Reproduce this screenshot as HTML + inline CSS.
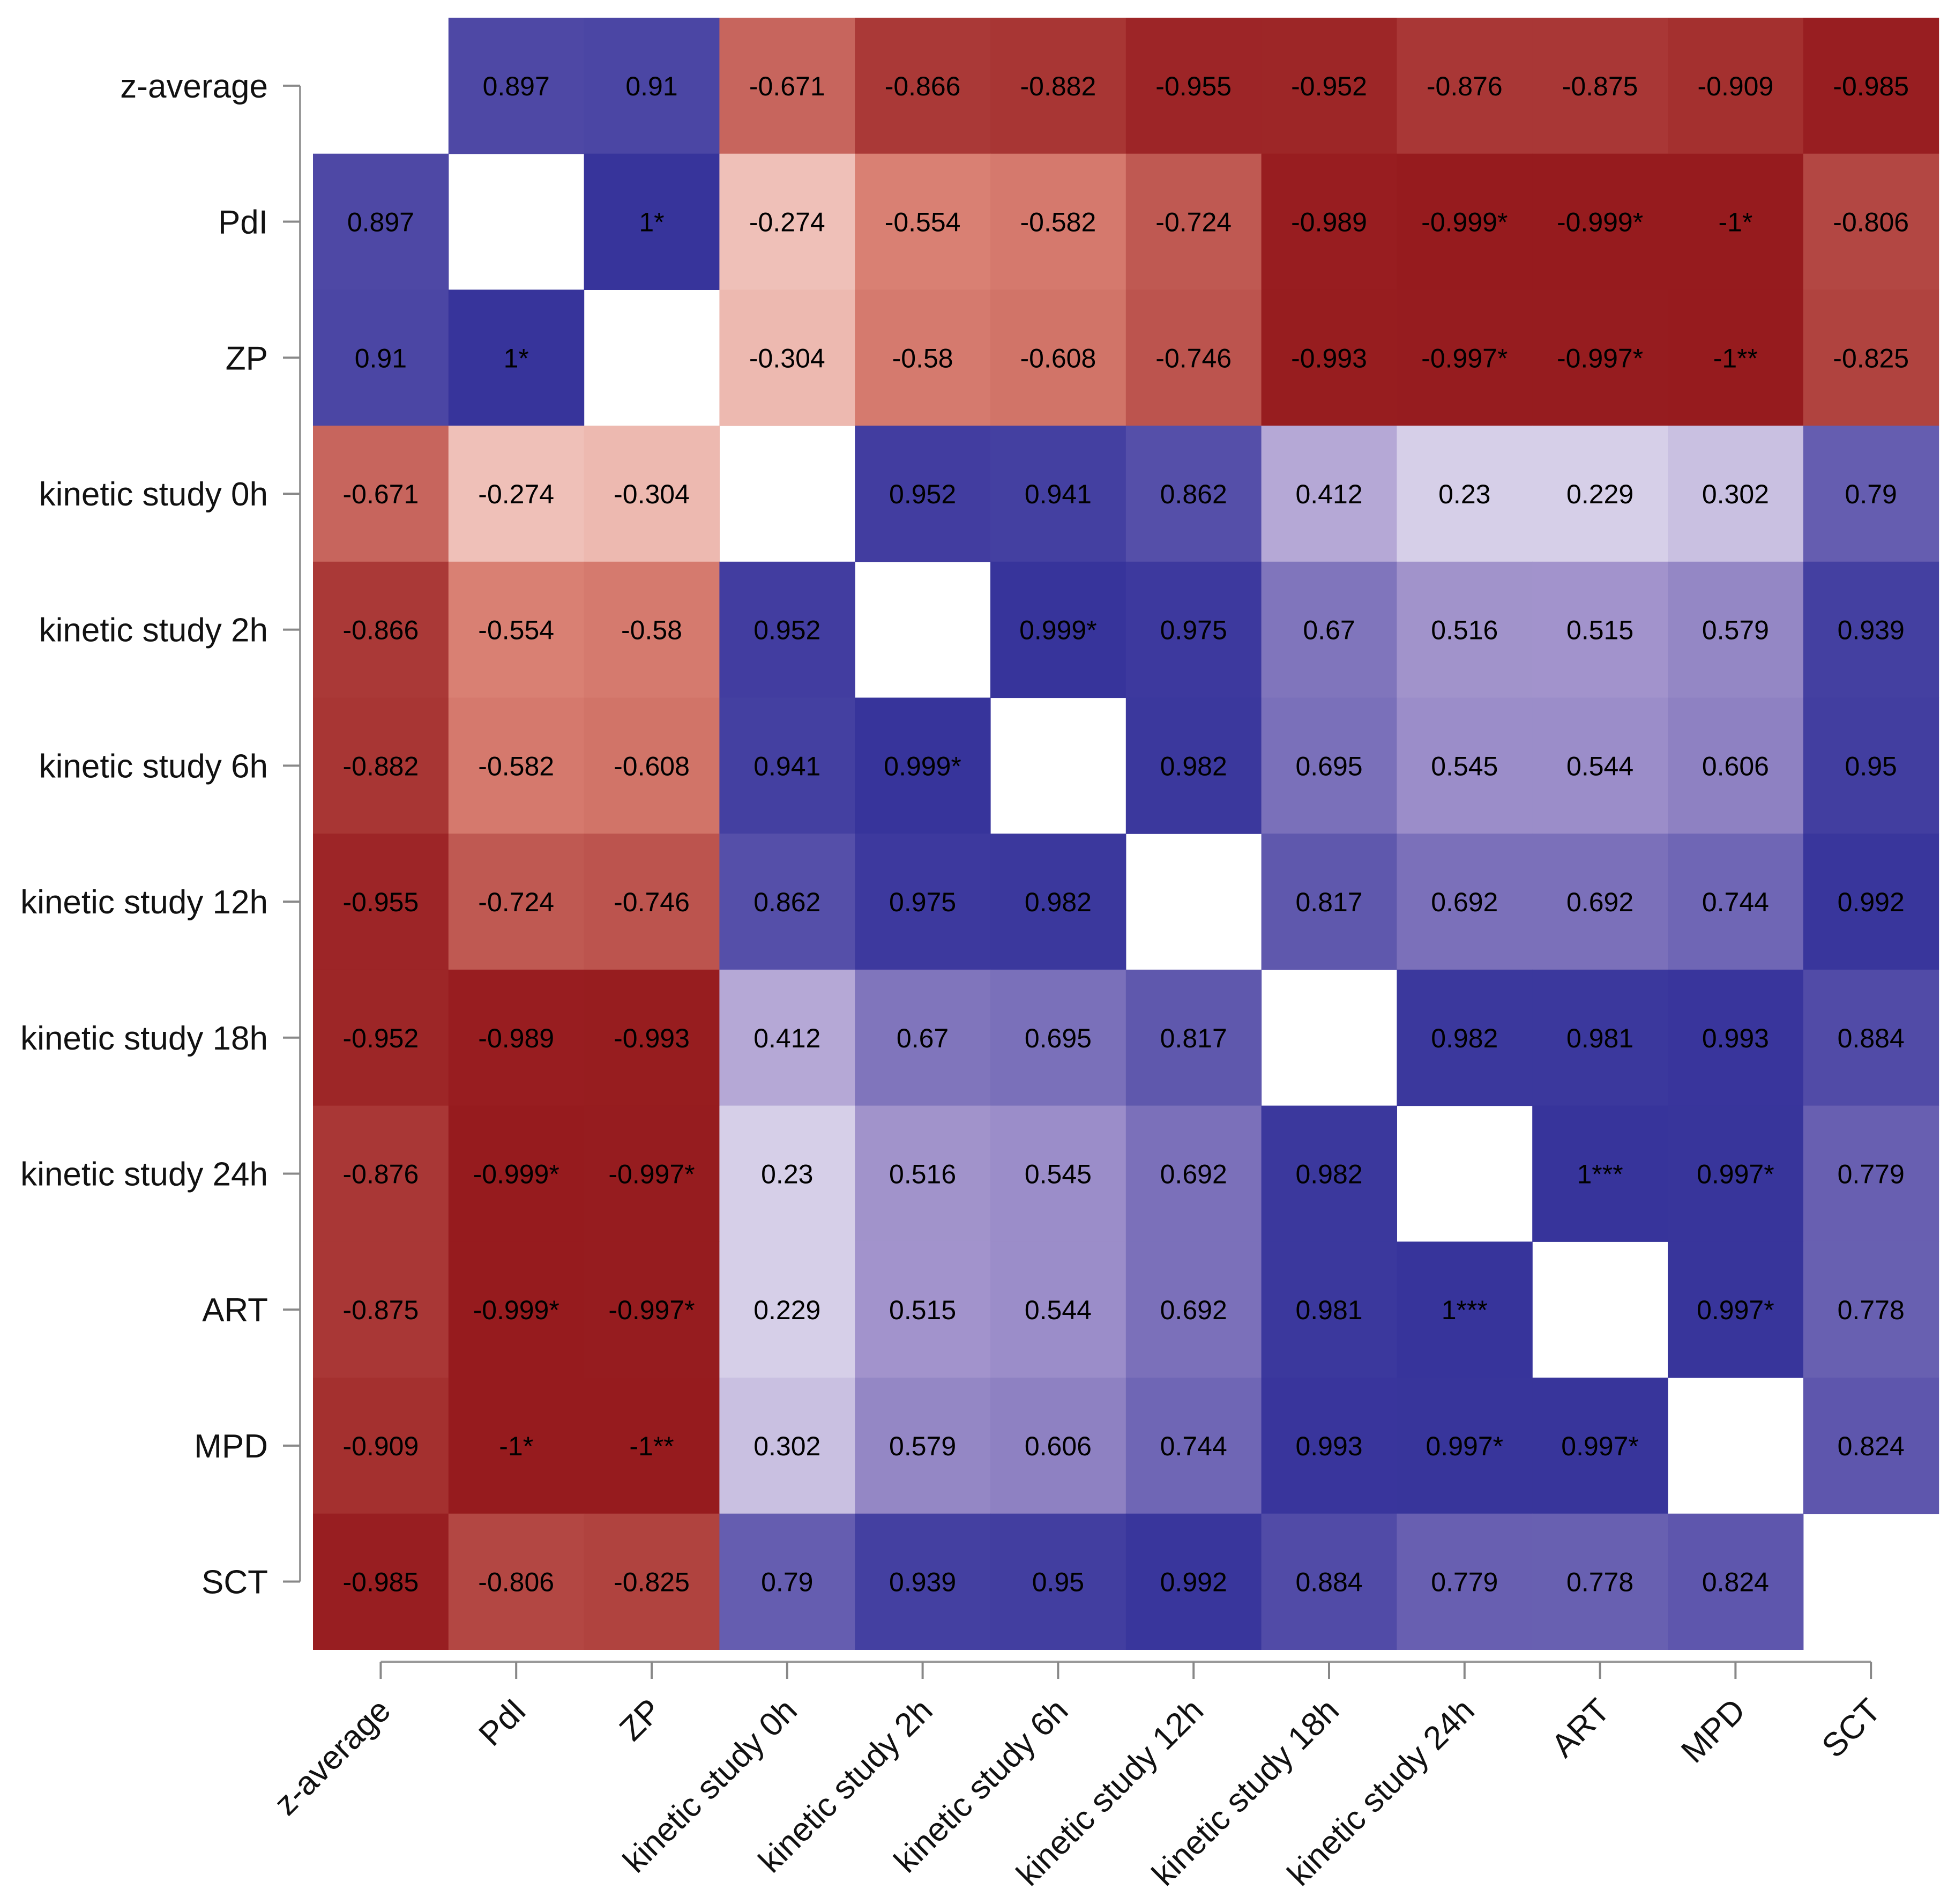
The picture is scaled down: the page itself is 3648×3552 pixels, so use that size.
<!DOCTYPE html>
<html><head><meta charset="utf-8">
<style>
html,body{margin:0;padding:0;background:#fff;}
svg{display:block;}
text{font-family:"Liberation Sans",Arial,sans-serif;}
</style></head>
<body>
<svg id="chart" width="3648" height="3552" viewBox="0 0 3648 3552" xmlns="http://www.w3.org/2000/svg">
<g id="cells"></g>
<g id="yaxis"></g>
<g id="xaxis"></g>
</svg>
<script>
const categories = ["z-average","PdI","ZP","kinetic study 0h","kinetic study 2h","kinetic study 6h","kinetic study 12h","kinetic study 18h","kinetic study 24h","ART","MPD","SCT"];
const row0 = [null,0.897,0.91,-0.671,-0.866,-0.882,-0.955,-0.952,-0.876,-0.875,-0.909,-0.985];
const row1 = [0.897,null,1,-0.274,-0.554,-0.582,-0.724,-0.989,-0.999,-0.999,-1,-0.806];
const row2 = [0.91,1,null,-0.304,-0.58,-0.608,-0.746,-0.993,-0.997,-0.997,-1,-0.825];
const row3 = [-0.671,-0.274,-0.304,null,0.952,0.941,0.862,0.412,0.23,0.229,0.302,0.79];
const row4 = [-0.866,-0.554,-0.58,0.952,null,0.999,0.975,0.67,0.516,0.515,0.579,0.939];
const row5 = [-0.882,-0.582,-0.608,0.941,0.999,null,0.982,0.695,0.545,0.544,0.606,0.95];
const row6 = [-0.955,-0.724,-0.746,0.862,0.975,0.982,null,0.817,0.692,0.692,0.744,0.992];
const row7 = [-0.952,-0.989,-0.993,0.412,0.67,0.695,0.817,null,0.982,0.981,0.993,0.884];
const row8 = [-0.876,-0.999,-0.997,0.23,0.516,0.545,0.692,0.982,null,1,0.997,0.779];
const row9 = [-0.875,-0.999,-0.997,0.229,0.515,0.544,0.692,0.981,1,null,0.997,0.778];
const row10 = [-0.909,-1,-1,0.302,0.579,0.606,0.744,0.993,0.997,0.997,null,0.824];
const row11 = [-0.985,-0.806,-0.825,0.79,0.939,0.95,0.992,0.884,0.779,0.778,0.824,null];
const matrix = [row0,row1,row2,row3,row4,row5,row6,row7,row8,row9,row10,row11];
const labels0 = ["","0.897","0.91","-0.671","-0.866","-0.882","-0.955","-0.952","-0.876","-0.875","-0.909","-0.985"];
const labels1 = ["0.897","","1*","-0.274","-0.554","-0.582","-0.724","-0.989","-0.999*","-0.999*","-1*","-0.806"];
const labels2 = ["0.91","1*","","-0.304","-0.58","-0.608","-0.746","-0.993","-0.997*","-0.997*","-1**","-0.825"];
const labels3 = ["-0.671","-0.274","-0.304","","0.952","0.941","0.862","0.412","0.23","0.229","0.302","0.79"];
const labels4 = ["-0.866","-0.554","-0.58","0.952","","0.999*","0.975","0.67","0.516","0.515","0.579","0.939"];
const labels5 = ["-0.882","-0.582","-0.608","0.941","0.999*","","0.982","0.695","0.545","0.544","0.606","0.95"];
const labels6 = ["-0.955","-0.724","-0.746","0.862","0.975","0.982","","0.817","0.692","0.692","0.744","0.992"];
const labels7 = ["-0.952","-0.989","-0.993","0.412","0.67","0.695","0.817","","0.982","0.981","0.993","0.884"];
const labels8 = ["-0.876","-0.999*","-0.997*","0.23","0.516","0.545","0.692","0.982","","1***","0.997*","0.779"];
const labels9 = ["-0.875","-0.999*","-0.997*","0.229","0.515","0.544","0.692","0.981","1***","","0.997*","0.778"];
const labels10 = ["-0.909","-1*","-1**","0.302","0.579","0.606","0.744","0.993","0.997*","0.997*","","0.824"];
const labels11 = ["-0.985","-0.806","-0.825","0.79","0.939","0.95","0.992","0.884","0.779","0.778","0.824",""];
const cellLabels = [labels0,labels1,labels2,labels3,labels4,labels5,labels6,labels7,labels8,labels9,labels10,labels11];

const NS = "http://www.w3.org/2000/svg";
const X0 = 584, Y0 = 33, CW = 252.8, CH = 253.7;
function xPos(i){ return X0 + i*CW; }
function yPos(i){ return Y0 + i*CH; }
function lerp(a,b,t){ return [a[0]+(b[0]-a[0])*t, a[1]+(b[1]-a[1])*t, a[2]+(b[2]-a[2])*t]; }
const W=[255,255,255], BM=[165,150,205], BE=[55,52,155], RM=[225,140,125], RE=[150,27,30];
function color(v){
  const a=Math.abs(v);
  let c;
  if(v>=0){ c = a<=0.5 ? lerp(W,BM,a/0.5) : lerp(BM,BE,(a-0.5)/0.5); }
  else { c = a<=0.5 ? lerp(W,RM,a/0.5) : lerp(RM,RE,(a-0.5)/0.5); }
  return `rgb(${Math.round(c[0])},${Math.round(c[1])},${Math.round(c[2])})`;
}
const cells = document.getElementById('cells');
const n = categories.length;
for(let r=0;r<n;r++){
  for(let c=0;c<n;c++){
    const v = matrix[r][c];
    if(v===null) continue;
    const rect = document.createElementNS(NS,'rect');
    rect.setAttribute('x', xPos(c)); rect.setAttribute('y', yPos(r));
    rect.setAttribute('width', CW+0.6); rect.setAttribute('height', CH+0.6);
    rect.setAttribute('fill', color(v));
    
    
    cells.appendChild(rect);
    const t = document.createElementNS(NS,'text');
    t.setAttribute('x', xPos(c)+CW/2); t.setAttribute('y', yPos(r)+CH/2+18);
    t.setAttribute('text-anchor','middle'); t.setAttribute('font-size','50');
    t.setAttribute('fill','#000');
    t.textContent = cellLabels[r][c];
    
    
    cells.appendChild(t);
  }
}
const ya = document.getElementById('yaxis');
const yl = document.createElementNS(NS,'line');
yl.setAttribute('x1',560); yl.setAttribute('x2',560);
yl.setAttribute('y1',yPos(0)+CH/2); yl.setAttribute('y2',yPos(n-1)+CH/2);
yl.setAttribute('stroke','#999'); yl.setAttribute('stroke-width','4');


ya.appendChild(yl);
for(let i=0;i<n;i++){
  const cy = yPos(i)+CH/2;
  const tk = document.createElementNS(NS,'line');
  tk.setAttribute('x1',528); tk.setAttribute('x2',560);
  tk.setAttribute('y1',cy); tk.setAttribute('y2',cy);
  tk.setAttribute('stroke','#888'); tk.setAttribute('stroke-width','4');
  
  
  ya.appendChild(tk);
  const t = document.createElementNS(NS,'text');
  t.setAttribute('x',500); t.setAttribute('y',cy+22);
  t.setAttribute('text-anchor','end'); t.setAttribute('font-size','62');
  t.setAttribute('fill','#111');
  t.textContent = categories[i];
  
  
  ya.appendChild(t);
}
const xa = document.getElementById('xaxis');
const xl = document.createElementNS(NS,'line');
xl.setAttribute('y1',3100); xl.setAttribute('y2',3100);
xl.setAttribute('x1',xPos(0)+CW/2); xl.setAttribute('x2',xPos(n-1)+CW/2);
xl.setAttribute('stroke','#999'); xl.setAttribute('stroke-width','4');


xa.appendChild(xl);
for(let i=0;i<n;i++){
  const cx = xPos(i)+CW/2;
  const tk = document.createElementNS(NS,'line');
  tk.setAttribute('x1',cx); tk.setAttribute('x2',cx);
  tk.setAttribute('y1',3100); tk.setAttribute('y2',3132);
  tk.setAttribute('stroke','#888'); tk.setAttribute('stroke-width','4');
  
  
  xa.appendChild(tk);
  const t = document.createElementNS(NS,'text');
  const ax = cx+22, ay = 3195;
  t.setAttribute('x',ax); t.setAttribute('y',ay);
  t.setAttribute('text-anchor','end'); t.setAttribute('font-size','62');
  t.setAttribute('fill','#111');
  t.setAttribute('transform',`rotate(-45 ${ax} ${ay})`);
  t.textContent = categories[i];
  
  
  xa.appendChild(t);
}
</script>
</body></html>
